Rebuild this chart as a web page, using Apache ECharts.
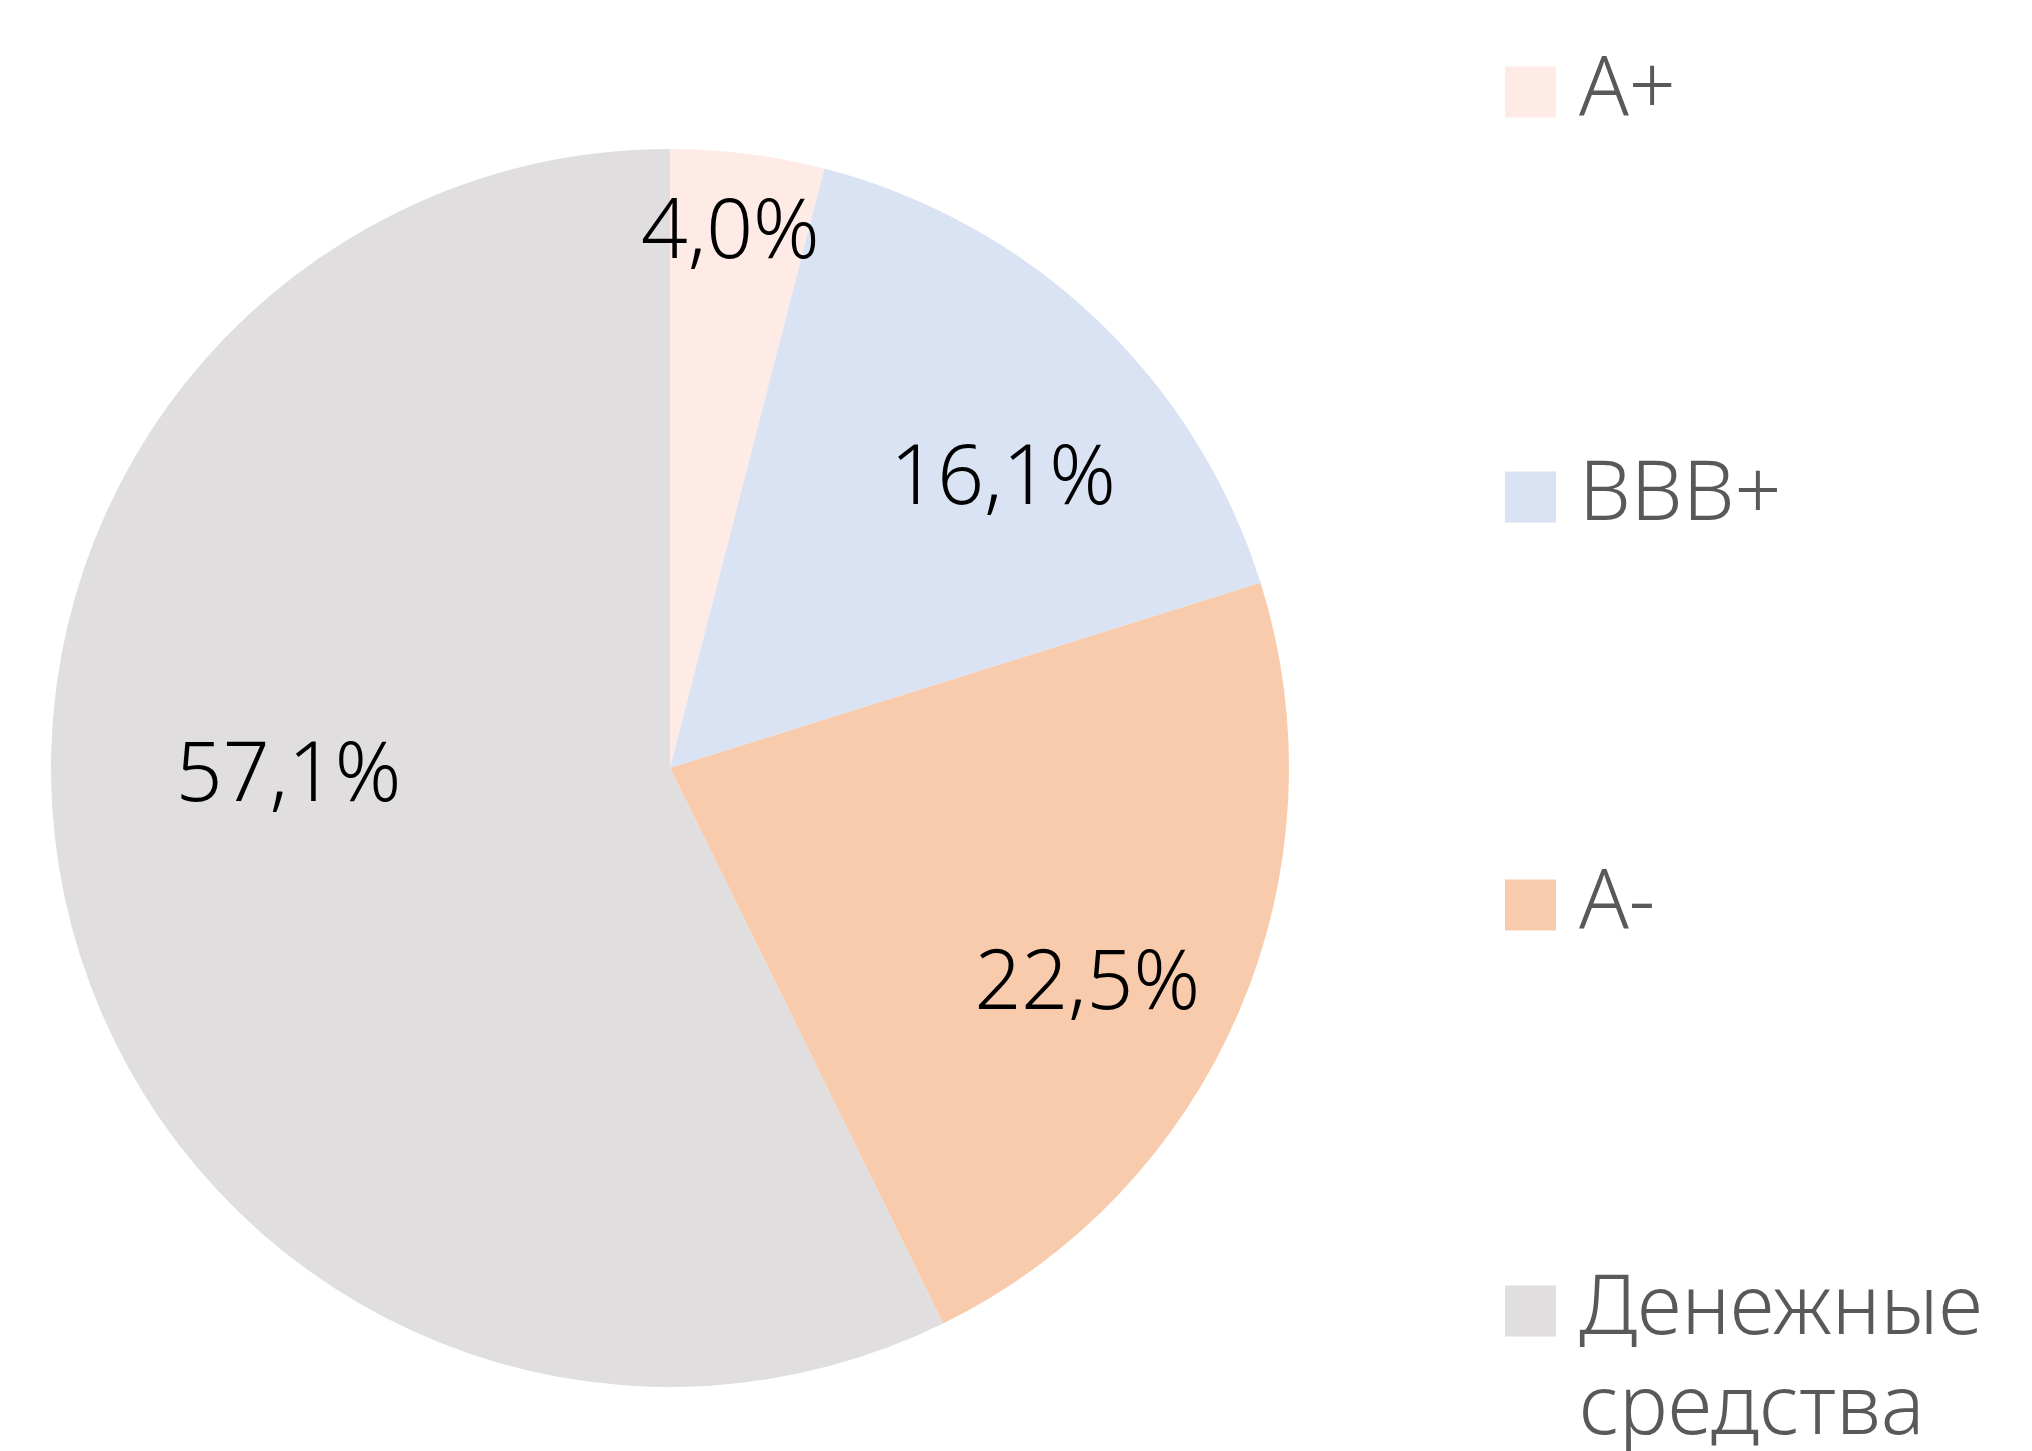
<!DOCTYPE html>
<html>
<head>
<meta charset="utf-8">
<script src="https://cdn.jsdelivr.net/npm/echarts@6/dist/echarts.min.js"></script>
<style>
  html, body { margin: 0; padding: 0; background: #fff; }
  #chart { width: 2032px; height: 1451px; }
</style>
</head>
<body>
<div id="chart"></div>
<script>
const categories = ["A+", "BBB+", "A-", "Денежные средства"];
const shares = [4.0, 16.1, 22.5, 57.1];
const colors = ["#FEEBE5", "#DAE3F3", "#F8CBAD", "#E0DEDF"];
// label nudges so they sit like the original (excel "best fit")
const labelNudge = [[21, -223], [118, -61], [130, 95], [-77, -61]];

const chart = echarts.init(document.getElementById("chart"));

const legendTops = [87, 492, 900, 1306];
const lineH = 100;
const legends = categories.map((name, i) => {
  const twoLine = name.indexOf(" ") > 0;
  return {
    data: [name],
    left: 1500,
    top: legendTops[i] - lineH / 2,
    itemWidth: 51,
    itemHeight: twoLine ? 51 + lineH : 51,
    // square at top, keep first text line beside it
    icon: twoLine ? "path://M0,0h51v51h-51z M0," + (51 + lineH) + "h0.01v0.01z" : "rect",
    selectedMode: false,
    formatter: (n) => n.replace(" ", "\n"),
    textStyle: {
      fontFamily: "Noto Sans",
      fontWeight: 300,
      fontSize: 82,
      lineHeight: lineH,
      color: "#595959",
      padding: [0, 0, 0, 18],
    },
  };
});

chart.setOption({
  animation: false,
  legend: legends,
  series: [
    {
      type: "pie",
      center: [670, 768],
      radius: 619,
      startAngle: 90,
      clockwise: true,
      avoidLabelOverlap: false,
      itemStyle: { borderWidth: 0 },
      label: {
        show: true,
        position: "inside",
        fontFamily: "Noto Sans",
        fontWeight: 300,
        fontSize: 82,
        color: "#000",
        formatter: (p) => p.value.toFixed(1).replace(".", ",") + "%",
      },
      labelLine: { show: false },
      emphasis: { disabled: true },
      data: categories.map((name, i) => ({
        name,
        value: shares[i],
        itemStyle: { color: colors[i] },
        label: { offset: labelNudge[i] },
      })),
    },
  ],
});
</script>
</body>
</html>
